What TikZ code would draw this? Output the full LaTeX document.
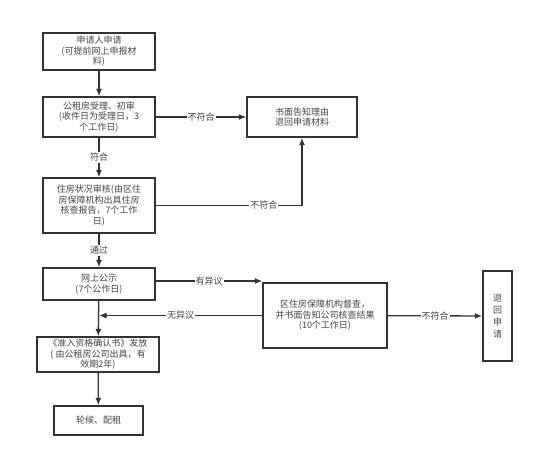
\documentclass[tikz,border=0pt]{standalone}
\usepackage{fontspec}
\setmainfont{Noto Sans CJK SC}
\usetikzlibrary{arrows.meta}
\definecolor{linec}{HTML}{333333}
\definecolor{textc}{HTML}{444444}
\tikzset{
    box/.style={draw=linec, line width=1.4pt, align=center, text=textc, inner sep=1pt,
        font=\fontsize{9}{10.5}\selectfont},
    lab/.style={fill=white, inner sep=1pt, text=textc, font=\fontsize{9}{10}\selectfont},
    arr/.style={draw=linec, line width=1.3pt, -{Latex[length=7.5pt,width=6pt]}}
}
\begin{document}
\begin{tikzpicture}[x=1pt, y=-1pt]
        \useasboundingbox (0,0) rectangle (536,459);
        \node[box, minimum width=112, minimum height=37] (apply) at (99,51.5) {申请人申请\\(可提前网上申报材\\料)};
        \node[box, minimum width=112, minimum height=40] (accept) at (99,117) {公租房受理、初审\\(收件日为受理日，3\\个工作日)};
        \node[box, minimum width=112, minimum height=55] (check) at (99,205.5) {住房状况审核(由区住\\房保障机构出具住房\\核查报告，7个工作\\日)};
        \node[box, minimum width=112, minimum height=32] (public) at (99,284) {网上公示\\(7个公作日)};
        \node[box, minimum width=122, minimum height=35] (cert) at (98,354.5) {《准入资格确认书》发放\\( 由公租房公司出具，有\\效期2年)};
        \node[box, minimum width=89, minimum height=29] (queue) at (98.5,420.5) {轮候、配租};
        \node[box, minimum width=110, minimum height=40] (notice) at (302,117) {书面告知理由\\退回申请材料};
        \node[box, minimum width=124, minimum height=65] (review) at (325,315.5) {区住房保障机构督查，\\并书面告知公司核查结果\\(10个工作日)};
        \node[box, minimum width=29, minimum height=90, font=\fontsize{9}{12}\selectfont] (reject) at (497.5,316) {退\\回\\申\\请};
        \draw[arr] (apply) -- (accept);
        \draw[arr] (accept) -- node[lab] {符合} (check);
        \draw[arr] (check) -- node[lab] {通过} (public);
        \draw[arr] (public) -- (cert);
        \draw[arr] (cert) -- (queue);
        \draw[arr] (accept) -- node[lab] {不符合} (notice);
        \draw[arr] (check.east) -| node[lab, pos=0.37] {不符合} (notice.south);
        \draw[arr] ([yshift=3]public.east) -- node[lab] {有异议} ([yshift=3]public.east -| review.west);
        \draw[arr] (review.west) -- node[lab] {无异议} (review.west -| public.south);
        \draw[arr] (review) -- node[lab] {不符合} (reject);
    \end{tikzpicture}
\end{document}
